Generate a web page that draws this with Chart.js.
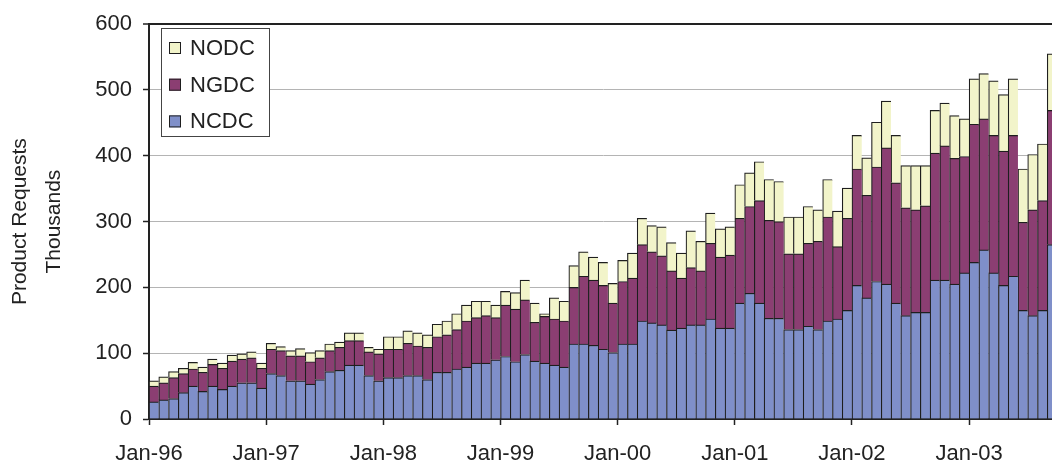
<!DOCTYPE html>
<html>
<head>
<meta charset="utf-8">
<script src="https://cdn.jsdelivr.net/npm/chart.js@4"></script>
<style>
  html, body { margin: 0; padding: 0; background: #fff; overflow: hidden; }
  #wrap { width: 1057px; height: 464px; position: relative; }
</style>
</head>
<body>
<div id="wrap"><canvas id="chart"></canvas></div>
<script>
// monthly product requests, thousands, Jan-96 .. Sep-03
const monthNames = ["Jan","Feb","Mar","Apr","May","Jun","Jul","Aug","Sep","Oct","Nov","Dec"];
const years = ["96","97","98","99","00","01","02","03"];

const ncdc = [26,29,31,40,50,42,50,45,50,55,55,47,
  69,66,58,58,53,60,72,74,82,82,66,58,
  63,63,66,66,60,71,71,76,79,85,85,90,
  95,87,98,88,85,82,79,114,114,112,106,101,
  114,114,149,146,143,135,138,143,143,152,138,138,
  176,191,176,153,153,136,136,141,136,149,152,165,
  203,184,209,205,176,157,162,162,211,211,205,222,
  238,257,222,203,217,165,157,165,265];

const ngdc = [24,26,32,29,26,29,33,32,38,36,38,30,
  37,38,38,38,34,33,32,35,37,37,36,41,
  43,43,49,45,49,54,57,60,70,69,72,64,
  78,80,83,59,71,70,70,86,103,99,97,75,
  95,100,116,108,105,90,76,87,82,115,108,111,
  129,132,156,149,147,115,115,126,134,158,110,140,
  177,156,174,207,183,164,156,162,193,204,191,177,
  210,199,209,204,214,134,161,167,204];

const nodc = [8,9,9,8,10,8,8,8,9,8,9,8,
  9,6,8,11,14,11,10,8,12,12,7,7,
  19,19,19,20,19,19,21,24,24,25,22,19,
  21,25,30,29,4,32,30,33,37,35,35,30,
  32,38,40,40,44,43,38,56,45,46,43,43,
  51,51,59,62,61,56,56,56,48,57,54,46,
  51,57,68,71,72,64,67,61,65,65,65,57,
  69,69,83,86,86,81,84,86,86];

const yTicks = [0,100,200,300,400,500,600];

const months = [];
years.forEach(y => monthNames.forEach(m => months.push(m + "-" + y)));
const count = ncdc.length;

const colors = { NCDC: "#7f8fc9", NGDC: "#8b3e72", NODC: "#f2f4ca" };
const edge = "#1e1e1e";

function toPoints(arr) {
  return arr.map((v, i) => ({ x: i + 0.5, y: v }));
}

function makeSet(label, arr) {
  return {
    label,
    data: toPoints(arr),
    backgroundColor: colors[label],
    borderColor: edge,
    borderWidth: { top: 1.2, left: 1.2, right: 0, bottom: 0 },
    borderSkipped: false,
    categoryPercentage: 1.0,
    barPercentage: 1.0
  };
}

// legend drawn in a framed box inside the plot, NODC on top
const boxLegend = {
  id: "boxLegend",
  afterDatasetsDraw(chart) {
    const ctx = chart.ctx;
    ctx.save();
    ctx.fillStyle = "#fff";
    ctx.fillRect(161, 28, 109, 109);
    ctx.strokeStyle = "#444";
    ctx.lineWidth = 1;
    ctx.strokeRect(161.5, 28.5, 108, 108);
    const items = chart.data.datasets.slice().reverse();
    ctx.font = "22px 'Liberation Sans', Arial, sans-serif";
    ctx.textBaseline = "middle";
    items.forEach((ds, i) => {
      const cy = 48 + i * 36.7;
      ctx.fillStyle = ds.backgroundColor;
      ctx.fillRect(169, cy - 6, 12, 12);
      ctx.strokeStyle = edge;
      ctx.strokeRect(169.5, cy - 5.5, 11, 11);
      ctx.fillStyle = "#222";
      ctx.fillText(ds.label, 190, cy + 1);
    });
    ctx.restore();
  }
};

Chart.defaults.font.family = "'Liberation Sans', Arial, sans-serif";
Chart.defaults.color = "#222";

new Chart(document.getElementById("chart"), {
  type: "bar",
  data: {
    datasets: [makeSet("NCDC", ncdc), makeSet("NGDC", ngdc), makeSet("NODC", nodc)]
  },
  plugins: [boxLegend],
  options: {
    responsive: true,
    maintainAspectRatio: false,
    animation: false,
    layout: { padding: { top: 20, left: 0, right: 0, bottom: 0 } },
    plugins: { legend: { display: false }, tooltip: { enabled: false } },
    scales: {
      x: {
        type: "linear",
        stacked: true,
        offset: false,
        min: 0,
        max: count,
        afterBuildTicks: s => { s.ticks = s.ticks.filter(t => t.value % 12 === 0 && t.value < count); },
        afterFit: s => { s.height = 45; },
        ticks: {
          stepSize: 12,
          autoSkip: false,
          maxRotation: 0,
          padding: 16,
          font: { size: 22 },
          callback: v => months[v]
        },
        grid: { offset: false, drawOnChartArea: false, tickLength: 6, tickColor: "#222", tickWidth: 1.5 },
        border: { color: "#222", width: 2 }
      },
      y: {
        stacked: true,
        min: 0,
        max: 600,
        afterBuildTicks: s => { s.ticks = yTicks.map(v => ({ value: v })); },
        afterFit: s => { s.width = 149; },
        ticks: { padding: 11, font: { size: 22 } },
        grid: {
          color: c => c.tick && c.tick.value === 600 ? "#222" : "#b4b4b4",
          lineWidth: c => c.tick && c.tick.value === 600 ? 2 : 1,
          tickLength: 6,
          tickColor: "#222",
          tickWidth: 1.5
        },
        border: { color: "#222", width: 2 },
        title: {
          display: true,
          text: ["Product Requests", "Thousands"],
          font: { size: 21, lineHeight: 1.62 },
          padding: { top: 3, bottom: 0 },
          color: "#222"
        }
      }
    }
  }
});
</script>
</body>
</html>
